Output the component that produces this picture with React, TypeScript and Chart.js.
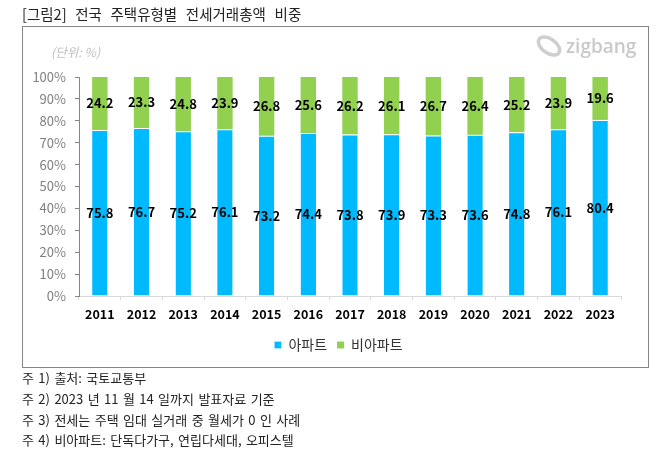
import React, { useEffect, useRef } from "react";
import { Chart, registerables } from "chart.js";

Chart.register(...registerables);

const years = ["2011","2012","2013","2014","2015","2016","2017","2018","2019","2020","2021","2022","2023"];
const apt = [75.8,76.7,75.2,76.1,73.2,74.4,73.8,73.9,73.3,73.6,74.8,76.1,80.4];
const nonApt = [24.2,23.3,24.8,23.9,26.8,25.6,26.2,26.1,26.7,26.4,25.2,23.9,19.6];
const seriesNames = ["아파트","비아파트"];
const title = "[그림2] 전국 주택유형별 전세거래총액 비중";
const unit = "(단위: %)";
const notes = [
  "주 1) 출처: 국토교통부",
  "주 2) 2023 년 11 월 14 일까지 발표자료 기준",
  "주 3) 전세는 주택 임대 실거래 중 월세가 0 인 사례",
  "주 4) 비아파트: 단독다가구, 연립다세대, 오피스텔",
];
const KR = '"Noto Sans CJK KR", "Noto Sans", sans-serif';

const labelPlugin = {
  id: "segmentLabels",
  afterLayout(chart: any) {
    // the legend is centred under the frame, not under the plot
    chart.legend.left += 28;
    chart.legend.right += 28;
  },
  afterDatasetsDraw(chart: any) {
    const ctx = chart.ctx;
    ctx.save();
    ctx.font = `bold 13px ${KR}`;
    ctx.fillStyle = "#000";
    ctx.textAlign = "center";
    ctx.textBaseline = "middle";
    chart.data.datasets.forEach((ds: any, i: number) => {
      chart.getDatasetMeta(i).data.forEach((el: any, j: number) => {
        const p = el.getProps(["x", "y", "base"], true);
        ctx.fillText(ds.data[j].toFixed(1), p.x, (p.y + p.base) / 2);
      });
    });
    ctx.restore();
  },
};

export default function App() {
  const ref = useRef<HTMLCanvasElement>(null);
  useEffect(() => {
    document.body.style.margin = "0";
    const chart = new Chart(ref.current!, {
      type: "bar",
      data: {
        labels: years,
        datasets: [
          { label: seriesNames[0], data: apt, backgroundColor: "#00BAFF", borderColor: "#fff", borderWidth: { top: 1 } as any, borderSkipped: false as any, barPercentage: 0.37, categoryPercentage: 1 },
          { label: seriesNames[1], data: nonApt, backgroundColor: "#92D050", borderWidth: 0, barPercentage: 0.37, categoryPercentage: 1 },
        ],
      },
      options: {
        responsive: false,
        animation: false,
        layout: { padding: { left: 0, right: 47, top: 77, bottom: 95 } },
        plugins: {
          tooltip: { enabled: false },
          legend: {
            position: "bottom",
            labels: {
              boxWidth: 7, boxHeight: 7, padding: 10, color: "#333",
              font: { family: KR, size: 14 },
            },
          },
        },
        scales: {
          x: {
            stacked: true,
            offset: true,
            afterFit: (s: any) => { s.height = 32; },
            grid: { drawOnChartArea: false, color: "#D9D9D9", tickColor: "#D9D9D9", tickLength: 4, offset: true },
            border: { color: "#D9D9D9" },
            ticks: { color: "#000", font: { family: KR, size: 12.5, weight: "bold" }, padding: 7, maxRotation: 0 },
          },
          y: {
            stacked: true,
            min: 0,
            max: 100,
            afterFit: (s: any) => { s.width = 79; },
            grid: { drawOnChartArea: false, color: "#868686", tickColor: "#868686", tickLength: 4 },
            border: { color: "#868686" },
            ticks: { stepSize: 10, color: "#808080", padding: 9, font: { family: KR, size: 13 }, callback: (v: any) => `${v}%` },
          },
        },
      },
      plugins: [labelPlugin],
    });
    return () => chart.destroy();
  }, []);

  return (
    <div style={{ position: "relative", width: 668, height: 457, overflow: "hidden", background: "#fff", fontFamily: KR }}>
      <canvas ref={ref} width={668} height={457} style={{ position: "absolute", left: 0, top: 0 }} />
      <div style={{ position: "absolute", left: 22, top: 26, width: 625, height: 340, border: "1px solid #868686", boxSizing: "content-box", pointerEvents: "none" }} />
      <div style={{ position: "absolute", left: 22, top: 4, fontSize: 14.5, wordSpacing: 5.4, color: "#222", whiteSpace: "pre", lineHeight: "20px" }}>{title}</div>
      <div style={{ position: "absolute", left: 51, top: 43, fontSize: 12.5, fontStyle: "italic", color: "#BFBFBF", lineHeight: "18px" }}>{unit}</div>
      <div style={{ position: "absolute", left: 566, top: 34, fontSize: 19, fontWeight: 600, color: "#C9C9C9", fontFamily: '"Open Sans", sans-serif', lineHeight: "24px" }}>zigbang</div>
      <svg width="28" height="26" style={{ position: "absolute", left: 535, top: 33 }}>
        <ellipse cx="14" cy="13" rx="12" ry="7" transform="rotate(35 14 13)" fill="none" stroke="#CFCFCF" strokeWidth="3.5" />
      </svg>
      {notes.map((n, i) => (
        <div key={i} style={{ position: "absolute", left: 22, top: 369 + i * 20.8, fontSize: 13, wordSpacing: 1.5, color: "#222", whiteSpace: "pre", lineHeight: "18px" }}>{n}</div>
      ))}
    </div>
  );
}
